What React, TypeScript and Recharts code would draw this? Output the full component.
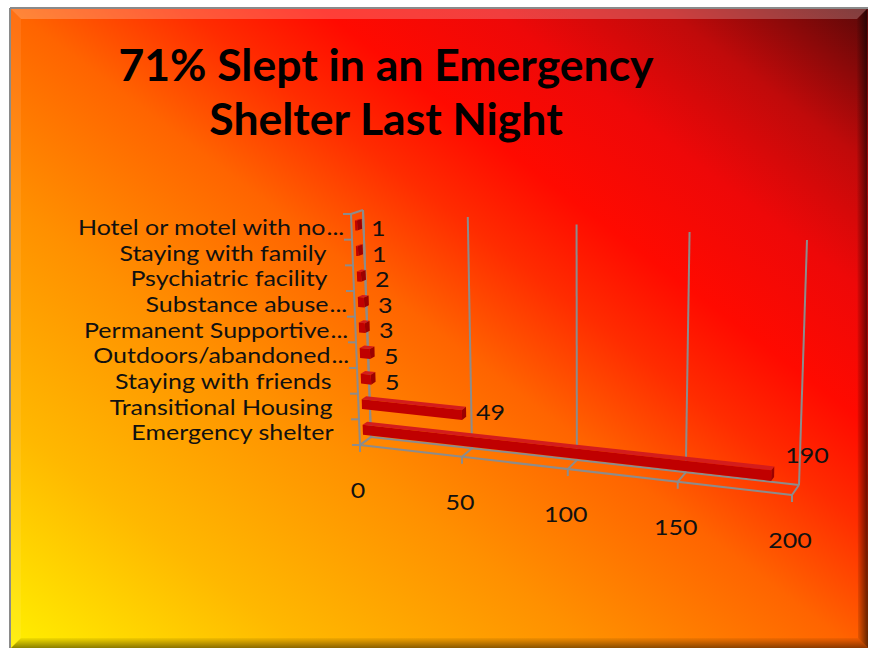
import { Bar, BarChart, CartesianGrid, XAxis, YAxis } from "recharts";

const categories = [
  "Hotel or motel with no...",
  "Staying with family",
  "Psychiatric facility",
  "Substance abuse...",
  "Permanent Supportive...",
  "Outdoors/abandoned...",
  "Staying with friends",
  "Transitional Housing",
  "Emergency shelter",
];
const counts = [1, 1, 2, 3, 3, 5, 5, 49, 190];
const valueTicks = [0, 50, 100, 150, 200];
const titleLines = ["71% Slept in an Emergency", "Shelter Last Night"];

const data = categories.map((name, i) => ({ name, value: counts[i] }));

const CHART_W = 875;
const CHART_H = 648;
// flat plot area recharts lays out; everything is then projected into the 3d box
const PLOT = { left: 351, top: 214, width: 432, height: 231 };
const FONT = "Lato, 'Noto Sans', sans-serif";
// calibri-like proportions: short caps, wide set
const LABEL_SIZE = 21;
const LABEL_STRETCH = 1.19;
const GRID = "#8c8c8c";

type Pt = [number, number];
type Face = { bl: Pt; br: Pt; tl: Pt; tr: Pt };

// front plane and back wall of the 3d plot box
const FRONT: Face = { bl: [360, 445], br: [792, 495], tl: [351, 214], tr: [797, 249] };
const BACK: Face = { bl: [371, 437], br: [799, 485], tl: [363, 210], tr: [807, 240] };
const BAR_D0 = 0.3;
const BAR_D1 = 0.7;

// slight perspective foreshortening along the value axis
const warp = (s: number) => s / (1.079 - 0.079 * s);
const lerp = (a: Pt, b: Pt, t: number): Pt => [a[0] + (b[0] - a[0]) * t, a[1] + (b[1] - a[1]) * t];

function onPlane(f: Face, s: number, h: number): Pt {
  const u = warp(s);
  return lerp(lerp(f.bl, f.br, u), lerp(f.tl, f.tr, u), h);
}

function project(s: number, h: number, d: number): Pt {
  return lerp(onPlane(FRONT, s, h), onPlane(BACK, s, h), d);
}

const toS = (x: number) => (x - PLOT.left) / PLOT.width;
const toH = (y: number) => 1 - (y - PLOT.top) / PLOT.height;
const pts = (list: Pt[]) => list.map((p) => `${p[0].toFixed(1)},${p[1].toFixed(1)}`).join(" ");

function Label({ x, y, anchor = "start", children }: { x: number; y: number; anchor?: string; children: any }) {
  return (
    <text
      transform={`translate(${x.toFixed(1)},${y.toFixed(1)}) scale(${LABEL_STRETCH},1)`}
      textAnchor={anchor}
      fontFamily={FONT}
      fontSize={LABEL_SIZE}
      fill="#111"
    >
      {children}
    </text>
  );
}

function BoxBar(props: any) {
  const { x, y, width, height, payload } = props;
  const s0 = toS(x);
  const s1 = toS(x + width);
  const hb = toH(y + height);
  const ht = toH(y);

  const front = [project(s0, hb, BAR_D0), project(s1, hb, BAR_D0), project(s1, ht, BAR_D0), project(s0, ht, BAR_D0)];
  const top = [project(s0, ht, BAR_D0), project(s1, ht, BAR_D0), project(s1, ht, BAR_D1), project(s0, ht, BAR_D1)];
  const end = [project(s1, hb, BAR_D0), project(s1, hb, BAR_D1), project(s1, ht, BAR_D1), project(s1, ht, BAR_D0)];
  const anchor = project(s1, (hb + ht) / 2, BAR_D0);
  const u = warp(s1);

  return (
    <g>
      <polygon points={pts(top)} fill="#d41c1c" />
      <polygon points={pts(end)} fill="#9c0000" />
      <polygon points={pts(front)} fill="#c00000" />
      <Label x={anchor[0] + 14} y={anchor[1] + 10.5 - 24 * u}>
        {payload.value}
      </Label>
    </g>
  );
}

function CategoryTick(props: any) {
  const { y, payload } = props;
  const p = onPlane(FRONT, 0, toH(y));
  const label = String(payload.value);
  const cut = label.endsWith("...");
  const main = cut ? label.slice(0, -3) : label;
  const xEnd = p[0] - 26;
  const base = p[1] + 8;

  return (
    <g>
      <Label x={xEnd} y={base} anchor="end">
        {main}
      </Label>
      {cut && (
        <Label x={xEnd + 1} y={base}>
          ...
        </Label>
      )}
    </g>
  );
}

function ValueTick(props: any) {
  const { x, payload } = props;
  const p = onPlane(FRONT, toS(x), 0);
  return (
    <g>
      <line x1={p[0]} y1={p[1]} x2={p[0]} y2={p[1] + 7} stroke={GRID} strokeWidth={2} />
      <Label x={p[0] - 2} y={p[1] + 53} anchor="middle">
        {payload.value}
      </Label>
    </g>
  );
}

function WallLine(props: any) {
  const s = toS(props.x1);
  const b0 = onPlane(BACK, s, 0);
  const b1 = onPlane(BACK, s, 1);
  const f0 = onPlane(FRONT, s, 0);
  return (
    <g key={`wall-${props.index}`}>
      <line x1={b0[0]} y1={b0[1]} x2={b1[0]} y2={b1[1]} stroke={GRID} strokeWidth={2} />
      <line x1={f0[0]} y1={f0[1]} x2={b0[0]} y2={b0[1]} stroke={GRID} strokeWidth={2} />
    </g>
  );
}

function Frame() {
  const seg = (a: Pt, b: Pt, key: string) => (
    <line key={key} x1={a[0]} y1={a[1]} x2={b[0]} y2={b[1]} stroke={GRID} strokeWidth={2} />
  );
  const ticks = categories.map((_, i) => i).concat(categories.length).map((k) => {
    const p = onPlane(FRONT, 0, k / categories.length);
    return seg(p, [p[0] - 8, p[1]], `ct-${k}`);
  });
  return (
    <g>
      {seg(onPlane(FRONT, 0, 0), onPlane(FRONT, 0, 1), "fl")}
      {seg(onPlane(FRONT, 0, 1), onPlane(BACK, 0, 1), "tl")}
      {seg(onPlane(BACK, 0, 0), onPlane(BACK, 0, 1), "bl")}
      {seg(onPlane(FRONT, 0, 0), onPlane(BACK, 0, 0), "dl")}
      {seg(onPlane(FRONT, 0, 0), onPlane(FRONT, 1, 0), "ff")}
      {seg(onPlane(BACK, 0, 0), onPlane(BACK, 1, 0), "bf")}
      {ticks}
    </g>
  );
}

export default function App() {
  return (
    <div style={{ position: "absolute", left: 0, top: 0, width: CHART_W, height: CHART_H, overflow: "hidden" }}>
      <svg width={CHART_W} height={CHART_H} style={{ position: "absolute", left: 0, top: 0 }}>
        <defs>
          <linearGradient id="bg" x1="0" y1="1" x2="1" y2="0">
            <stop offset="0" stopColor="#fff200" />
            <stop offset="0.18" stopColor="#ffb800" />
            <stop offset="0.35" stopColor="#ff9000" />
            <stop offset="0.5" stopColor="#ff6400" />
            <stop offset="0.6" stopColor="#ff2c00" />
            <stop offset="0.68" stopColor="#ff0a00" />
            <stop offset="0.78" stopColor="#ee0808" />
            <stop offset="0.88" stopColor="#c00a0a" />
            <stop offset="1" stopColor="#5a0808" />
          </linearGradient>
          <linearGradient id="bevelRight" x1="0" y1="0" x2="1" y2="0">
            <stop offset="0" stopColor="#000" stopOpacity={0.05} />
            <stop offset="1" stopColor="#000" stopOpacity={0.6} />
          </linearGradient>
          <linearGradient id="bevelBottom" x1="0" y1="0" x2="0" y2="1">
            <stop offset="0" stopColor="#000" stopOpacity={0.05} />
            <stop offset="1" stopColor="#000" stopOpacity={0.45} />
          </linearGradient>
        </defs>
        <rect x={10} y={8} width={858} height={650} fill="url(#bg)" />
        <polygon points="11,9 867,9 857,19 21,19" fill="#fff" fillOpacity={0.22} />
        <polygon points="11,9 21,19 21,638 11,648" fill="#fff" fillOpacity={0.08} />
        <polygon points="867,9 868,648 858,638 857,19" fill="url(#bevelRight)" />
        <polygon points="11,648 21,638 858,638 868,648" fill="url(#bevelBottom)" />
        <line x1={10} y1={8} x2={10} y2={648} stroke="#8a8a8a" strokeWidth={2} />
        <line x1={10} y1={8} x2={868} y2={8} stroke="#8a8a8a" strokeWidth={2} />
        <text x={386} y={81} textAnchor="middle" fontFamily={FONT} fontWeight={700} fontSize={44.5} fill="#000">
          {titleLines[0]}
        </text>
        <text x={386} y={135} textAnchor="middle" fontFamily={FONT} fontWeight={700} fontSize={44.5} fill="#000">
          {titleLines[1]}
        </text>
        <Frame />
      </svg>
      <div style={{ position: "absolute", left: 0, top: 0 }}>
        <BarChart
          width={CHART_W}
          height={CHART_H}
          data={data}
          layout="vertical"
          barCategoryGap="30%"
          margin={{ top: PLOT.top, right: CHART_W - PLOT.left - PLOT.width, bottom: 143, left: 0 }}
        >
          <CartesianGrid horizontal={false} vertical={WallLine} />
          <XAxis
            type="number"
            domain={[0, 200]}
            ticks={valueTicks}
            interval={0}
            axisLine={false}
            tickLine={false}
            height={60}
            tick={ValueTick}
          />
          <YAxis
            type="category"
            dataKey="name"
            width={PLOT.left}
            interval={0}
            axisLine={false}
            tickLine={false}
            tick={CategoryTick}
          />
          <Bar dataKey="value" shape={BoxBar} isAnimationActive={false} />
        </BarChart>
      </div>
    </div>
  );
}
